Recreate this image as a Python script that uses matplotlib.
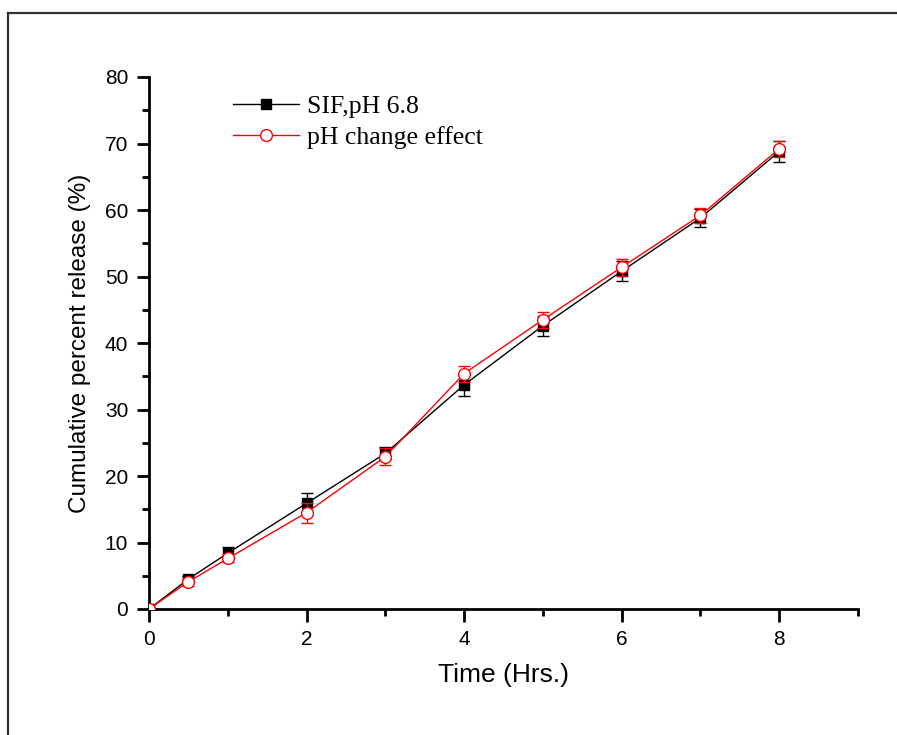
import matplotlib
matplotlib.use("Agg")
import matplotlib.pyplot as plt
from matplotlib.lines import Line2D
from matplotlib.ticker import MultipleLocator

# time points (hrs)
time = [0, 0.5, 1, 2, 3, 4, 5, 6, 7, 8]
# SIF, pH 6.8
sif = [0, 4.5, 8.4, 15.9, 23.4, 33.7, 42.6, 50.8, 58.8, 68.8]
sif_err = [0, 0.5, 0.9, 1.5, 0.9, 1.6, 1.5, 1.5, 1.3, 1.6]
# pH change effect
phc = [0, 4.1, 7.6, 14.5, 22.9, 35.4, 43.5, 51.4, 59.2, 69.2]
phc_err = [0, 0.6, 0.6, 1.5, 1.3, 1.2, 1.2, 1.3, 1.1, 1.2]

fig = plt.figure(figsize=(8.97, 7.35), dpi=100)

# outer frame (cut at right and bottom like the reference)
fig.add_artist(Line2D([8/897, 8/897], [0, 1 - 13/735], color="#333333", lw=1.6))
fig.add_artist(Line2D([8/897, 1], [1 - 13/735, 1 - 13/735], color="#333333", lw=1.6))

ax = fig.add_axes([149/897, 1 - 609/735, (858 - 149)/897, (609 - 77)/735])

ax.errorbar(time, sif, yerr=sif_err, color="black", lw=1, marker="s", ms=6.5,
            mfc="black", mec="black", capsize=4, elinewidth=1, capthick=1,
            label="SIF,pH 6.8", zorder=3)
ax.errorbar(time, phc, yerr=phc_err, color="red", lw=1, marker="o", ms=8.5,
            mfc="white", mec="red", capsize=4, elinewidth=1, capthick=1,
            label="pH change effect", zorder=4)

ax.set_xlim(0, 9)
ax.set_ylim(0, 80)
ax.xaxis.set_major_locator(MultipleLocator(2))
ax.xaxis.set_minor_locator(MultipleLocator(1))
ax.yaxis.set_major_locator(MultipleLocator(10))
ax.yaxis.set_minor_locator(MultipleLocator(5))
ax.spines["top"].set_visible(False)
ax.spines["right"].set_visible(False)
for s in ["left", "bottom"]:
    ax.spines[s].set_linewidth(2)
ax.tick_params(which="major", direction="out", length=9, width=2,
               labelsize=15, pad=6)
ax.tick_params(which="minor", direction="out", length=5, width=2)
for lab in ax.get_xticklabels() + ax.get_yticklabels():
    lab.set_fontfamily("Liberation Sans")

ax.set_xlabel("Time (Hrs.)", fontsize=19, family="Liberation Sans", labelpad=10)
ax.set_ylabel("Cumulative percent release (%)", fontsize=17.5,
              family="Liberation Sans", labelpad=10)

h, l = ax.get_legend_handles_labels()
h = [x[0] for x in h]
ax.legend(h, l, loc="upper left", bbox_to_anchor=(0.118, 0.966), frameon=False,
          prop={"family": "Liberation Serif", "size": 18.5}, handlelength=2.6,
          handletextpad=0.3, labelspacing=0.32, borderaxespad=0, borderpad=0)

fig.savefig("out.png", dpi=100)
